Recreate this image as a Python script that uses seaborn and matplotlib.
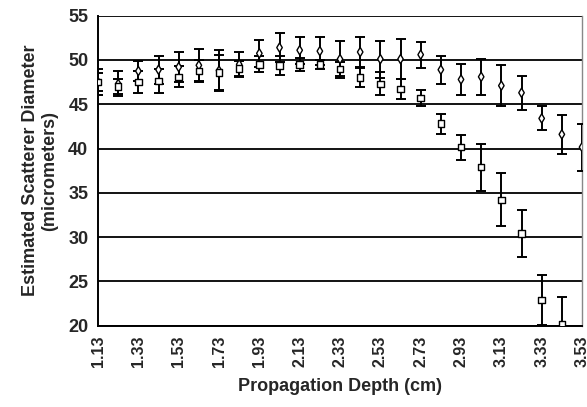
import numpy as np
import pandas as pd
import matplotlib
matplotlib.use("Agg")
import matplotlib.pyplot as plt
import seaborn as sns

depth = [1.13, 1.23, 1.33, 1.43, 1.53, 1.63, 1.73, 1.83, 1.93, 2.03, 2.13, 2.23, 2.33,
         2.43, 2.53, 2.63, 2.73, 2.83, 2.93, 3.03, 3.13, 3.23, 3.33, 3.43, 3.53]

diamond_mean = [47.5, 47.3, 48.75, 48.9, 49.2, 49.4, 48.8, 49.5, 50.75, 51.4, 51.1, 51.0, 50.1,
                50.9, 50.1, 50.1, 50.6, 48.9, 47.8, 48.1, 47.1, 46.3, 43.4, 41.6, 40.15]
diamond_err = [1.5, 1.4, 1.15, 1.6, 1.7, 1.8, 2.3, 1.45, 1.5, 1.6, 1.55, 1.6, 2.1,
               1.7, 2.1, 2.3, 1.45, 1.6, 1.75, 2.05, 2.3, 1.9, 1.35, 2.2, 2.65]

square_mean = [47.5, 47.0, 47.5, 47.65, 48.1, 48.75, 48.6, 49.05, 49.5, 49.4, 49.5, 49.5, 49.0,
               48.0, 47.3, 46.7, 45.7, 42.8, 40.15, 37.9, 34.2, 30.4, 22.9, 20.15]
square_err = [1.0, 0.8, 1.2, 1.35, 1.2, 1.25, 2.0, 0.85, 0.9, 1.1, 0.7, 0.5, 0.8,
              1.1, 1.3, 1.1, 0.95, 1.15, 1.4, 2.65, 3.0, 2.7, 2.85, 3.05]

x_ticks = depth[::2]
y_ticks = [20, 25, 30, 35, 40, 45, 50, 55]

df_d = pd.DataFrame({"depth": depth, "diam": diamond_mean, "err": diamond_err, "series": "A"})
df_s = pd.DataFrame({"depth": depth[:len(square_mean)], "diam": square_mean,
                     "err": square_err, "series": "B"})
df = pd.concat([df_d, df_s], ignore_index=True)

sns.set_style("white")
plt.rcParams['font.family'] = ['Liberation Sans', 'DejaVu Sans']
plt.rcParams['font.weight'] = 'bold'

fig = plt.figure(figsize=(5.87, 4.07), dpi=100)
ax = fig.add_axes([0.167, 0.2, 0.8245, 0.7614])

for s, d in df.groupby("series"):
    ax.errorbar(d["depth"], d["diam"], yerr=d["err"], fmt="none", ecolor="black",
                elinewidth=1.4, capsize=3.5, capthick=1.4, zorder=3)

sns.scatterplot(data=df, x="depth", y="diam", style="series",
                markers={"A": "d", "B": "s"}, s=22, facecolor="white",
                edgecolor="black", linewidth=1.0, legend=False, ax=ax, zorder=4)

ax.set_xlim(1.13, 3.53)
ax.set_ylim(20, 55)
ax.set_xticks(x_ticks)
ax.set_xticklabels([f"{v:.2f}" for v in x_ticks], rotation=90, fontsize=11.5, fontweight='bold')
ax.set_yticks(y_ticks)
ax.set_yticklabels([str(v) for v in y_ticks], fontsize=13, fontweight='bold')
ax.tick_params(axis="both", direction="out", length=4, width=1.2, color="black", pad=3)

for v in y_ticks:
    ax.axhline(v, color="black", lw=1.3, zorder=1)

for side in ["left", "bottom"]:
    ax.spines[side].set_color("black")
    ax.spines[side].set_linewidth(1.4)
ax.spines["right"].set_color("#888888")
ax.spines["right"].set_linewidth(1.0)
ax.spines["top"].set_visible(False)

ax.set_xlabel("Propagation Depth (cm)", fontsize=13, fontweight='bold', labelpad=8)
ax.set_ylabel("Estimated Scatterer Diameter\n(micrometers)", fontsize=13,
              fontweight='bold', labelpad=7, linespacing=1.2)

fig.savefig("out.png", dpi=100)
